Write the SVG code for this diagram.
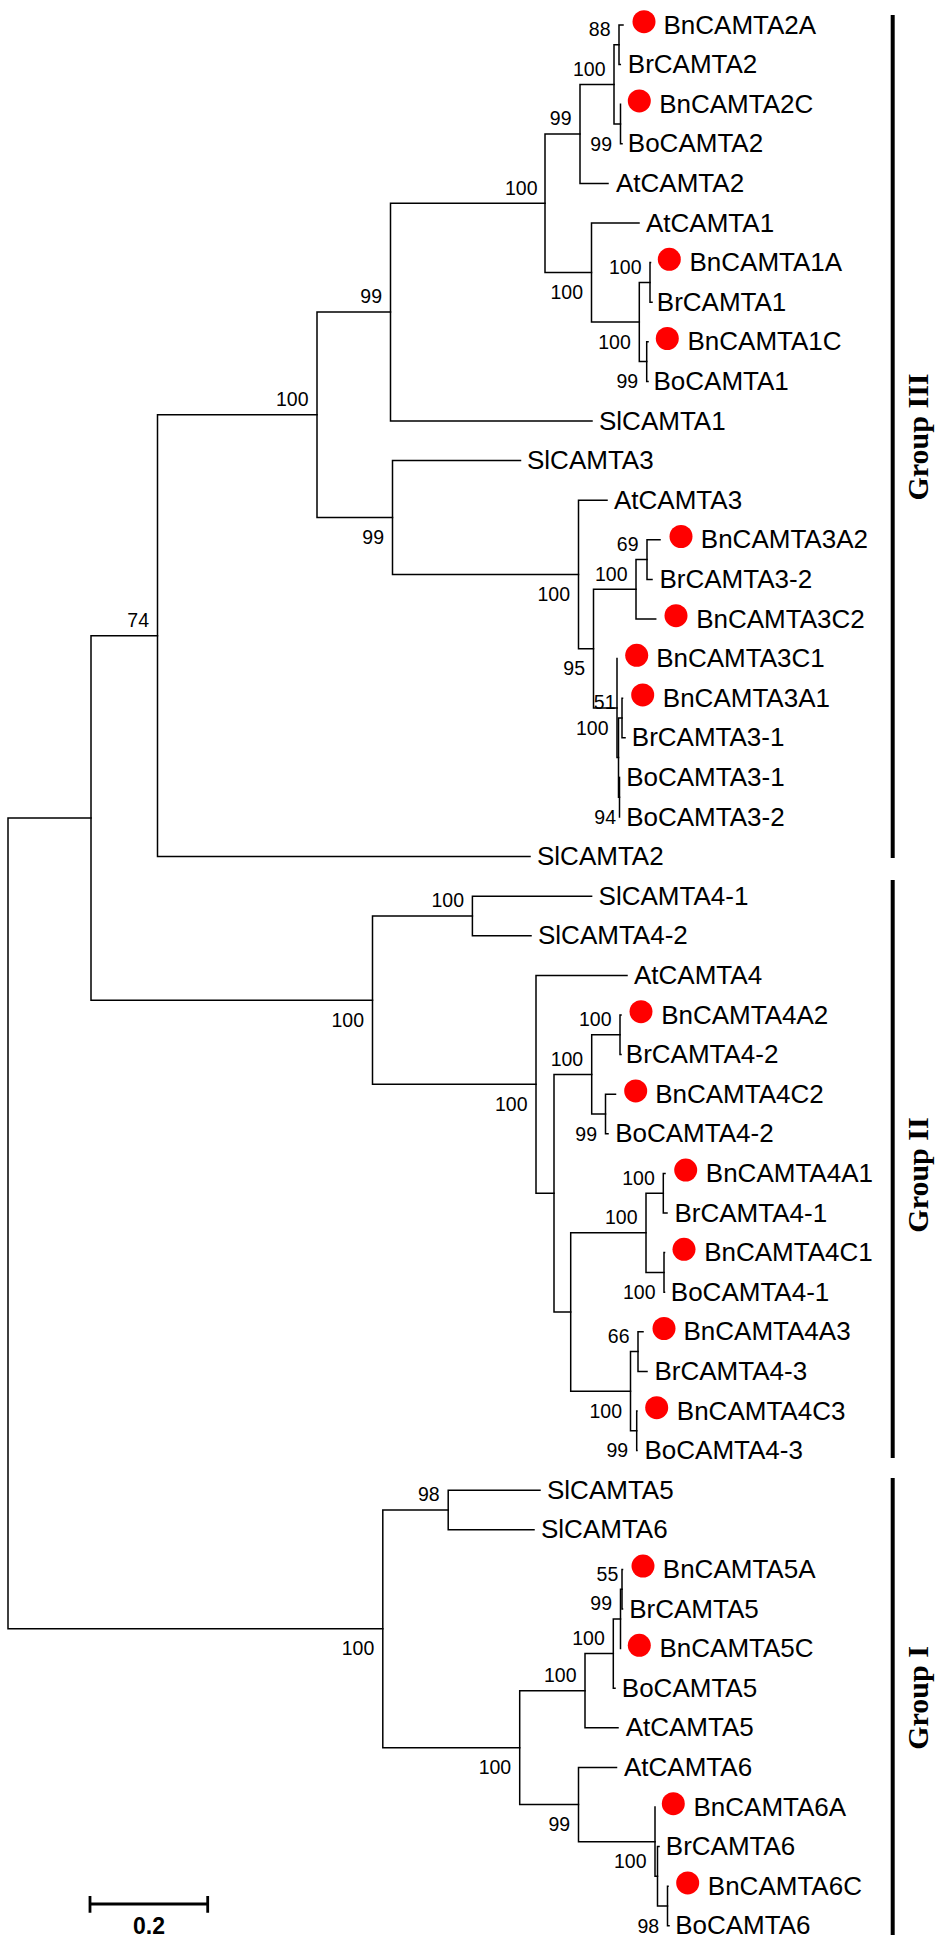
<svg xmlns="http://www.w3.org/2000/svg" width="945" height="1953" viewBox="0 0 945 1953">
<style>
.br{stroke:#000;stroke-width:1.5;fill:none;stroke-linecap:square}
.lf{font-family:"Liberation Sans",Arial,sans-serif;font-size:26px;fill:#000}
.bs{font-family:"Liberation Sans",Arial,sans-serif;font-size:19.5px;fill:#000;text-anchor:end}
.dot{fill:#f00}
.bar{stroke:#000;stroke-width:4}
.grp{font-family:"Liberation Serif","Times New Roman",serif;font-size:30px;font-weight:bold;text-anchor:middle}
</style>
<rect width="945" height="1953" fill="#fff"/>
<g id="connectors" class="br">
<path d="M623,25H619V64.6H620.3"/>
<path d="M620.5,104.2H620.5V143.8H622"/>
<path d="M619,44.8H614V124H620.5"/>
<path d="M614,84.4H580V183.4H608"/>
<path d="M650.5,262.6H650V302.2H652"/>
<path d="M648,341.8H646.7V381.4H648"/>
<path d="M650,282.4H639.3V361.6H646.7"/>
<path d="M639,223H591.5V322H639.3"/>
<path d="M580,133.9H545V272.5H591.5"/>
<path d="M545,203.2H390.5V421H592"/>
<path d="M660,539.8H647V579.4H652"/>
<path d="M647,559.6H636V619H655.7"/>
<path d="M622.5,698.2H622V737.8H625"/>
<path d="M619.5,777.4V817"/>
<path d="M622,718H618.5V797.2H619.5"/>
<path d="M617,658.6V757.6H618.5"/>
<path d="M636,589.3H593.5V708.1H617"/>
<path d="M607,500.2H578.5V648.7H593.5"/>
<path d="M520.5,460.6H392.5V574.5H578.5"/>
<path d="M390.5,312.1H317V517.5H392.5"/>
<path d="M317,414.8H157.5V856.6H530"/>
<path d="M591.6,896.2H472.4V935.8H531"/>
<path d="M621,1015H620V1054.6H621"/>
<path d="M615.5,1094.2H605.5V1133.8H608"/>
<path d="M620,1034.8H591.7V1114H605.5"/>
<path d="M665,1173.4H663.3V1213H667"/>
<path d="M664.5,1252.6H664V1292.2H664.5"/>
<path d="M663.3,1193.2H646V1272.4H664"/>
<path d="M643,1331.8H638V1371.4H647"/>
<path d="M637,1411H636.7V1450.6H637"/>
<path d="M638,1351.6H630.5V1430.8H636.7"/>
<path d="M646,1232.8H570.7V1391.2H630.5"/>
<path d="M591.7,1074.4H554V1312H570.7"/>
<path d="M627,975.4H536V1193.2H554"/>
<path d="M472.4,916H372.5V1084.3H536"/>
<path d="M157.5,635.7H91V1000.2H372.5"/>
<path d="M622.5,1569.4H622V1609H622.5"/>
<path d="M622,1589.2H620.5V1648.6"/>
<path d="M620.5,1618.9H613.3V1688.2H615"/>
<path d="M613.3,1653.6H585V1727.8H618"/>
<path d="M668,1886.2H667.5V1925.8H669"/>
<path d="M659,1846.6H657.5V1906H667.5"/>
<path d="M655,1807V1876.3H657.5"/>
<path d="M616.5,1767.4H578.5V1841.7H655"/>
<path d="M585,1690.7H519.7V1804.6H578.5"/>
<path d="M540,1490.2H448.2V1529.8H534"/>
<path d="M448.2,1510H382.8V1747.7H519.7"/>
<path d="M91,817.9H8V1628.8H382.8"/>
</g>
<g id="leaves">
<g id="BnCAMTA2A"><circle class="dot" cx="644" cy="21.7" r="11.5"/><text class="lf" x="663.5" y="33.5">BnCAMTA2A</text></g>
<g id="BrCAMTA2"><text class="lf" x="627.8" y="73.1">BrCAMTA2</text></g>
<g id="BnCAMTA2C"><circle class="dot" cx="639.3" cy="100.9" r="11.5"/><text class="lf" x="659.2" y="112.7">BnCAMTA2C</text></g>
<g id="BoCAMTA2"><text class="lf" x="627.8" y="152.3">BoCAMTA2</text></g>
<g id="AtCAMTA2"><text class="lf" x="616" y="191.9">AtCAMTA2</text></g>
<g id="AtCAMTA1"><text class="lf" x="646" y="231.5">AtCAMTA1</text></g>
<g id="BnCAMTA1A"><circle class="dot" cx="669.3" cy="259.3" r="11.5"/><text class="lf" x="689.5" y="271.1">BnCAMTA1A</text></g>
<g id="BrCAMTA1"><text class="lf" x="656.8" y="310.7">BrCAMTA1</text></g>
<g id="BnCAMTA1C"><circle class="dot" cx="667.3" cy="338.5" r="11.5"/><text class="lf" x="687.5" y="350.3">BnCAMTA1C</text></g>
<g id="BoCAMTA1"><text class="lf" x="653.5" y="389.9">BoCAMTA1</text></g>
<g id="SlCAMTA1"><text class="lf" x="599" y="429.5">SlCAMTA1</text></g>
<g id="SlCAMTA3"><text class="lf" x="527" y="469.1">SlCAMTA3</text></g>
<g id="AtCAMTA3"><text class="lf" x="614" y="508.7">AtCAMTA3</text></g>
<g id="BnCAMTA3A2"><circle class="dot" cx="681" cy="536.5" r="11.5"/><text class="lf" x="700.8" y="548.3">BnCAMTA3A2</text></g>
<g id="BrCAMTA3-2"><text class="lf" x="659.5" y="587.9">BrCAMTA3-2</text></g>
<g id="BnCAMTA3C2"><circle class="dot" cx="676" cy="615.7" r="11.5"/><text class="lf" x="696.2" y="627.5">BnCAMTA3C2</text></g>
<g id="BnCAMTA3C1"><circle class="dot" cx="636.7" cy="655.3" r="11.5"/><text class="lf" x="656.2" y="667.1">BnCAMTA3C1</text></g>
<g id="BnCAMTA3A1"><circle class="dot" cx="642.7" cy="694.9" r="11.5"/><text class="lf" x="662.8" y="706.7">BnCAMTA3A1</text></g>
<g id="BrCAMTA3-1"><text class="lf" x="631.8" y="746.3">BrCAMTA3-1</text></g>
<g id="BoCAMTA3-1"><text class="lf" x="626.2" y="785.9">BoCAMTA3-1</text></g>
<g id="BoCAMTA3-2"><text class="lf" x="626.2" y="825.5">BoCAMTA3-2</text></g>
<g id="SlCAMTA2"><text class="lf" x="537" y="865.1">SlCAMTA2</text></g>
<g id="SlCAMTA4-1"><text class="lf" x="598.6" y="904.7">SlCAMTA4-1</text></g>
<g id="SlCAMTA4-2"><text class="lf" x="538" y="944.3">SlCAMTA4-2</text></g>
<g id="AtCAMTA4"><text class="lf" x="634" y="983.9">AtCAMTA4</text></g>
<g id="BnCAMTA4A2"><circle class="dot" cx="641" cy="1011.7" r="11.5"/><text class="lf" x="661.2" y="1023.5">BnCAMTA4A2</text></g>
<g id="BrCAMTA4-2"><text class="lf" x="625.8" y="1063.1">BrCAMTA4-2</text></g>
<g id="BnCAMTA4C2"><circle class="dot" cx="635.7" cy="1090.9" r="11.5"/><text class="lf" x="655.2" y="1102.7">BnCAMTA4C2</text></g>
<g id="BoCAMTA4-2"><text class="lf" x="615.2" y="1142.3">BoCAMTA4-2</text></g>
<g id="BnCAMTA4A1"><circle class="dot" cx="685.7" cy="1170.1" r="11.5"/><text class="lf" x="705.8" y="1181.9">BnCAMTA4A1</text></g>
<g id="BrCAMTA4-1"><text class="lf" x="674.5" y="1221.5">BrCAMTA4-1</text></g>
<g id="BnCAMTA4C1"><circle class="dot" cx="684" cy="1249.3" r="11.5"/><text class="lf" x="704.2" y="1261.1">BnCAMTA4C1</text></g>
<g id="BoCAMTA4-1"><text class="lf" x="670.8" y="1300.7">BoCAMTA4-1</text></g>
<g id="BnCAMTA4A3"><circle class="dot" cx="664" cy="1328.5" r="11.5"/><text class="lf" x="683.5" y="1340.3">BnCAMTA4A3</text></g>
<g id="BrCAMTA4-3"><text class="lf" x="654.5" y="1379.9">BrCAMTA4-3</text></g>
<g id="BnCAMTA4C3"><circle class="dot" cx="656.7" cy="1407.7" r="11.5"/><text class="lf" x="676.8" y="1419.5">BnCAMTA4C3</text></g>
<g id="BoCAMTA4-3"><text class="lf" x="644.5" y="1459.1">BoCAMTA4-3</text></g>
<g id="SlCAMTA5"><text class="lf" x="547" y="1498.7">SlCAMTA5</text></g>
<g id="SlCAMTA6"><text class="lf" x="541" y="1538.3">SlCAMTA6</text></g>
<g id="BnCAMTA5A"><circle class="dot" cx="643" cy="1566.1" r="11.5"/><text class="lf" x="662.8" y="1577.9">BnCAMTA5A</text></g>
<g id="BrCAMTA5"><text class="lf" x="629.2" y="1617.5">BrCAMTA5</text></g>
<g id="BnCAMTA5C"><circle class="dot" cx="639.3" cy="1645.3" r="11.5"/><text class="lf" x="659.5" y="1657.1">BnCAMTA5C</text></g>
<g id="BoCAMTA5"><text class="lf" x="621.8" y="1696.7">BoCAMTA5</text></g>
<g id="AtCAMTA5"><text class="lf" x="625.7" y="1736.3">AtCAMTA5</text></g>
<g id="AtCAMTA6"><text class="lf" x="624" y="1775.9">AtCAMTA6</text></g>
<g id="BnCAMTA6A"><circle class="dot" cx="673.3" cy="1803.7" r="11.5"/><text class="lf" x="693.5" y="1815.5">BnCAMTA6A</text></g>
<g id="BrCAMTA6"><text class="lf" x="665.8" y="1855.1">BrCAMTA6</text></g>
<g id="BnCAMTA6C"><circle class="dot" cx="687.7" cy="1882.9" r="11.5"/><text class="lf" x="707.8" y="1894.7">BnCAMTA6C</text></g>
<g id="BoCAMTA6"><text class="lf" x="675.2" y="1934.3">BoCAMTA6</text></g>
</g>
<g id="bootstrap" class="bs">
<text x="610.5" y="36.1">88</text>
<text x="612" y="150.5">99</text>
<text x="605.5" y="75.7">100</text>
<text x="571.5" y="125.2">99</text>
<text x="641.5" y="273.7">100</text>
<text x="630.8" y="348.5">100</text>
<text x="638.2" y="388.1">99</text>
<text x="583" y="299">100</text>
<text x="537.5" y="194.5">100</text>
<text x="382" y="303.4">99</text>
<text x="638.5" y="550.9">69</text>
<text x="627.5" y="580.6">100</text>
<text x="615.5" y="709.3">51</text>
<text x="616" y="823.7">94</text>
<text x="608.5" y="734.6">100</text>
<text x="585" y="675.2">95</text>
<text x="570" y="601">100</text>
<text x="384" y="544">99</text>
<text x="308.5" y="406.1">100</text>
<text x="149" y="627">74</text>
<text x="464" y="907.3">100</text>
<text x="364" y="1026.7">100</text>
<text x="527.5" y="1110.8">100</text>
<text x="583.2" y="1065.7">100</text>
<text x="611.5" y="1026.1">100</text>
<text x="597" y="1140.5">99</text>
<text x="637.5" y="1224.1">100</text>
<text x="654.8" y="1184.5">100</text>
<text x="655.5" y="1298.9">100</text>
<text x="622" y="1417.7">100</text>
<text x="629.5" y="1342.9">66</text>
<text x="628.2" y="1457.3">99</text>
<text x="439.7" y="1501.3">98</text>
<text x="374.3" y="1655.3">100</text>
<text x="511.2" y="1774.2">100</text>
<text x="576.5" y="1682">100</text>
<text x="604.8" y="1644.9">100</text>
<text x="612" y="1610.2">99</text>
<text x="618.3" y="1580.5">55</text>
<text x="570.2" y="1831.1">99</text>
<text x="646.5" y="1868.2">100</text>
<text x="659.2" y="1932.5">98</text>
</g>
<g id="group-III"><line class="bar" x1="892.7" y1="15" x2="892.7" y2="858"/><text class="grp" x="928" y="437" transform="rotate(-90 928 437)">Group III</text></g>
<g id="group-II"><line class="bar" x1="892.7" y1="880" x2="892.7" y2="1458"/><text class="grp" x="928" y="1175" transform="rotate(-90 928 1175)">Group II</text></g>
<g id="group-I"><line class="bar" x1="892.7" y1="1478" x2="892.7" y2="1935"/><text class="grp" x="928" y="1698" transform="rotate(-90 928 1698)">Group I</text></g>
<g id="scale-bar">
<path d="M90,1904H207.7M90,1896V1912.7M207.7,1896V1912.7" stroke="#000" stroke-width="2.8" fill="none"/>
<text x="149" y="1934" text-anchor="middle" font-family="Liberation Sans,Arial,sans-serif" font-size="23px" font-weight="bold">0.2</text>
</g>
</svg>
